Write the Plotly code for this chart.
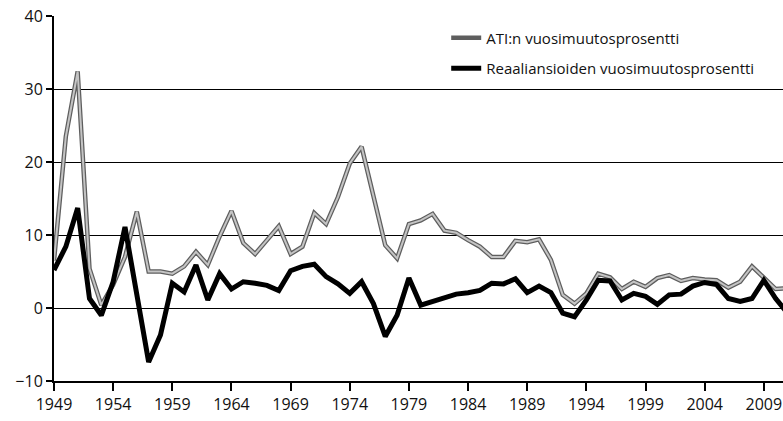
import plotly.graph_objects as go

years = list(range(1949, 2012))

ati = [6.5, 23.5, 32.4, 5.4, 0.4, 3.2, 7.0, 13.2, 5.0, 5.0,
       4.7, 5.7, 7.7, 5.9, 9.8, 13.3, 8.9, 7.4, 9.3, 11.2,
       7.4, 8.4, 13.0, 11.5, 15.2, 19.8, 22.1, 15.2, 8.6, 6.8,
       11.5, 12.0, 12.9, 10.6, 10.3, 9.3, 8.4, 7.0, 7.0, 9.2,
       9.0, 9.4, 6.6, 1.8, 0.6, 2.0, 4.7, 4.2, 2.6, 3.6,
       2.9, 4.1, 4.5, 3.7, 4.1, 3.9, 3.8, 2.8, 3.6, 5.7,
       4.1, 2.6, 2.7]

real = [5.2, 8.4, 13.7, 1.3, -1.0, 3.6, 11.1, 2.0, -7.4, -3.7,
        3.4, 2.2, 5.9, 1.1, 4.7, 2.6, 3.6, 3.4, 3.1, 2.4,
        5.1, 5.7, 6.0, 4.3, 3.3, 2.0, 3.6, 0.6, -3.9, -1.0,
        4.1, 0.4, 0.9, 1.5, 1.9, 2.1, 2.4, 3.4, 3.3, 4.0,
        2.1, 3.0, 2.1, -0.7, -1.2, 1.1, 3.8, 3.7, 1.1, 2.0,
        1.6, 0.5, 1.8, 1.9, 3.0, 3.5, 3.2, 1.3, 0.9, 1.3,
        3.8, 1.3, -0.7]

tick_years = list(range(1949, 2010, 5))
y_ticks = [-10, 0, 10, 20, 30, 40]

FONT = "Open Sans, Liberation Sans, sans-serif"

fig = go.Figure()
# ATI line: dark outline with a lighter core
fig.add_trace(go.Scatter(
    x=years, y=ati, mode="lines", name="ATI:n vuosimuutosprosentti",
    line=dict(color="#5e5e5e", width=4.5), legendgroup="a", showlegend=True,
    hoverinfo="skip"))
fig.add_trace(go.Scatter(
    x=years, y=ati, mode="lines", name="ATI core",
    line=dict(color="#c4c4c4", width=2), legendgroup="a", showlegend=False,
    hoverinfo="skip"))
fig.add_trace(go.Scatter(
    x=years, y=real, mode="lines", name="Reaaliansioiden vuosimuutosprosentti",
    line=dict(color="#000000", width=5), legendgroup="b", showlegend=True))

fig.update_layout(
    width=783, height=421,
    margin=dict(l=54, r=0, t=16, b=40, autoexpand=False),
    paper_bgcolor="white", plot_bgcolor="white",
    font=dict(family=FONT, size=16, color="#111"),
    showlegend=True,
    legend=dict(
        x=0.538, y=0.985, xanchor="left", yanchor="top",
        bgcolor="rgba(0,0,0,0)", font=dict(size=15, family=FONT, color="#111"),
        traceorder="grouped", tracegroupgap=8, itemwidth=30,
    ),
    xaxis=dict(
        range=[1949, 2010.62], tickmode="array", tickvals=tick_years,
        ticktext=[str(y) for y in tick_years],
        showgrid=False, zeroline=False,
        showline=True, linecolor="black", linewidth=2,
        ticks="outside", ticklen=8, tickwidth=1.5, tickcolor="black",
        tickfont=dict(size=16, family=FONT, color="#111"),
        automargin=False, ticklabeloverflow="allow",
    ),
    yaxis=dict(
        range=[-10, 40], tickmode="array", tickvals=y_ticks,
        ticktext=["\u221210", "0", "10", "20", "30", "40"],
        showgrid=True, gridcolor="black", gridwidth=1.3,
        zeroline=True, zerolinecolor="black", zerolinewidth=1.3,
        showline=True, linecolor="black", linewidth=2,
        ticks="outside", ticklen=6, tickwidth=1.5, tickcolor="black",
        tickfont=dict(size=16, family=FONT, color="#111"),
        automargin=False, ticklabeloverflow="allow",
    ),
)

# remove the browser's default 8px body margin so the figure fills the window
fig.write_html(
    "out.html",
    config={"displayModeBar": False},
    post_script="document.body.style.margin='0';document.body.style.overflow='hidden';",
)
